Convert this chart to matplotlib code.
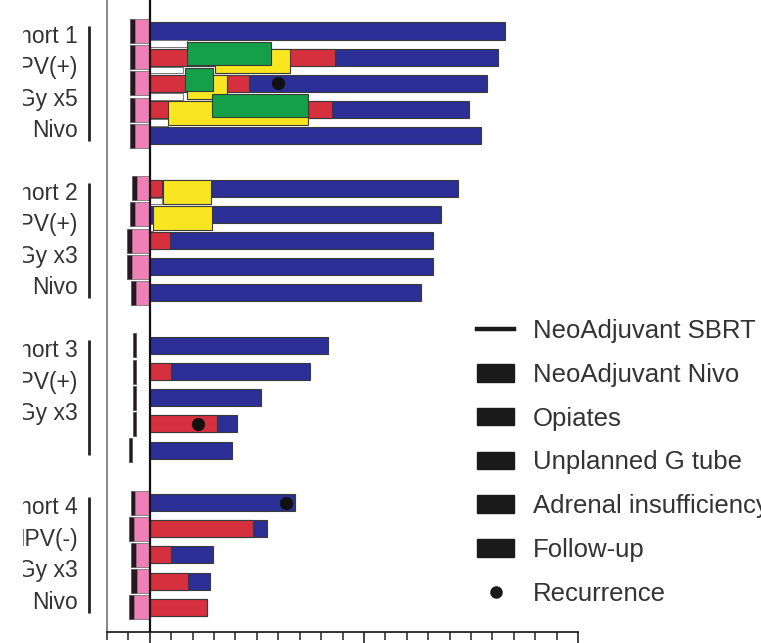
import matplotlib
matplotlib.use("Agg")
import matplotlib.pyplot as plt
from matplotlib.lines import Line2D
from matplotlib.patches import Patch
from matplotlib.transforms import Bbox, TransformedBbox
import numpy as np

plt.rcParams["font.family"] = ["Liberation Sans", "DejaVu Sans"]

# --- data (time from surgery; rows listed top to bottom, 5 patients per cohort) ---
cohort_labels = [
    ["Cohort 1", "HPV(+)", "8Gy x5", "Nivo"],
    ["Cohort 2", "HPV(+)", "8Gy x3", "Nivo"],
    ["Cohort 3", "HPV(+)", "8Gy x3"],
    ["Cohort 4", "HPV(-)", "8Gy x3", "Nivo"],
]
followup_end = [16.6, 16.27, 15.76, 14.92, 15.48,
                14.4, 13.6, 13.23, 13.23, 12.67,
                8.33, 7.49, 5.2, 4.07, 3.84,
                6.78, 5.46, 2.94, 2.81, 2.66]
opiates_end = [0, 8.66, 4.63, 8.5, 0,
               0.57, 0, 0.94, 0, 0,
               0, 1.0, 0, 3.12, 0,
               0, 4.83, 0.98, 1.79, 2.66]
nivo_start = [-0.69, -0.69, -0.69, -0.69, -0.69,
              -0.6, -0.69, -0.83, -0.83, -0.64,
              np.nan, np.nan, np.nan, np.nan, np.nan,
              -0.69, -0.74, -0.64, -0.6, -0.74]
sbrt_start = [-0.92, -0.92, -0.92, -0.92, -0.92,
              -0.83, -0.92, -1.06, -1.06, -0.88,
              -0.78, -0.78, -0.78, -0.78, -0.97,
              -0.88, -0.97, -0.88, -0.88, -0.97]
sbrt_end = [-0.69, -0.69, -0.69, -0.69, -0.69,
            -0.6, -0.69, -0.83, -0.83, -0.64,
            -0.66, -0.66, -0.66, -0.66, -0.85,
            -0.69, -0.74, -0.64, -0.6, -0.74]
# patient index (0-19) with event intervals
gtube_pt = [1, 2, 3, 5, 6]
gtube_start = [3.05, 1.74, 0.85, 0.62, 0.15]
gtube_end = [6.55, 3.6, 7.39, 2.87, 2.91]
adrenal_pt = [1, 2, 3]
adrenal_start = [1.74, 1.64, 2.91]
adrenal_end = [5.66, 2.95, 7.39]
blank_pt = [0, 1, 2, 3, 5, 6]
blank_end = [1.74, 1.55, 1.55, 0.85, 0.57, 0.15]
recur_pt = [2, 13, 15]
recur_time = [6.0, 2.25, 6.37]

BLUE = "#2b2f96"
RED = "#d6303f"
GREEN = "#14a049"
YELLOW = "#f9e620"
PINK = "#f07fb8"
DARK = "#2a1520"
EDGE = "#3a3a3a"

n_pt = len(followup_end)
row_y = np.array([(i // 5) * 6 + i % 5 for i in range(n_pt)], dtype=float)

fig = plt.figure(figsize=(7.61, 6.43), dpi=100)
ax = fig.add_axes([107 / 761, 11 / 643, 471 / 761, 632 / 643])
ax.set_xlim(-2, 20)
ax.set_ylim(22.94, -1.183)

bar_h = 0.65
kw = dict(edgecolor=EDGE, linewidth=0.8)

# follow-up and opiates
ax.barh(row_y, followup_end, height=bar_h, left=0, color=BLUE, zorder=2, **kw)
op = np.array(opiates_end)
m = op > 0
ax.barh(row_y[m], op[m], height=bar_h, left=0, color=RED, zorder=3, **kw)

# white sub-rows under the bars
by = row_y[blank_pt]
ax.barh(by + 0.49, blank_end, height=0.26, left=0, color="white",
        edgecolor="#777777", linewidth=0.7, zorder=2.5)

# G tube and adrenal insufficiency, offset within the row
gy = row_y[gtube_pt]
ax.barh(gy + 0.135, np.subtract(gtube_end, gtube_start), height=0.91,
        left=gtube_start, color=YELLOW, zorder=4, **kw)
ay = row_y[adrenal_pt]
ax.barh(ay - 0.15, np.subtract(adrenal_end, adrenal_start), height=0.88,
        left=adrenal_start, color=GREEN, zorder=5, **kw)

# neoadjuvant SBRT and nivo
ax.barh(row_y, np.subtract(sbrt_end, sbrt_start), height=0.92, left=sbrt_start,
        color=DARK, edgecolor="#555555", linewidth=0.6, zorder=2)
ns = np.array(nivo_start)
m = ~np.isnan(ns)
ax.barh(row_y[m], -ns[m], height=0.92, left=ns[m], color=PINK,
        edgecolor="#777777", linewidth=0.6, zorder=2)

# recurrence
ax.plot(recur_time, row_y[recur_pt], "o", color="#111111", markersize=8.5, zorder=6)

# zero line
ax.axvline(0, color="#111111", linewidth=1.6, zorder=7)

# axes styling
for s in ["top", "right"]:
    ax.spines[s].set_visible(False)
ax.spines["left"].set_color("#666666")
ax.spines["left"].set_linewidth(1.1)
ax.spines["bottom"].set_color("#222222")
ax.spines["bottom"].set_linewidth(1.3)
ax.set_yticks([])
ax.set_xticks([0, 10, 20])
ax.set_xticks(np.arange(-2, 21, 1), minor=True)
ax.tick_params(axis="x", which="major", direction="out", length=10, width=1.2,
               color="#222222", labelbottom=False)
ax.tick_params(axis="x", which="minor", direction="out", length=5.5, width=1.1,
               color="#222222")

# cohort labels with brackets (left part cut off like the source)
clip = TransformedBbox(Bbox([[23 / 761, 0], [1, 1]]), fig.transFigure)
x_txt = (78 - 149.8) / 21.4
x_brk = (89 - 149.8) / 21.4
for g, lines in enumerate(cohort_labels):
    c = g * 6 + 2
    for i, s in enumerate(lines):
        t = ax.text(x_txt, c + (i - 1.5) * 1.2, s, ha="right", va="center",
                    fontsize=16.5, color="#333333", clip_on=True)
        t.set_clip_box(clip)
    ax.plot([x_brk, x_brk], [c - 2.2, c + 2.2], color="#222222", linewidth=2,
            clip_on=False, solid_capstyle="butt")

# legend (markers are black in the source)
handles = [
    Line2D([], [], color="#1a1a1a", linewidth=3.2),
    Patch(facecolor="#1a1a1a", edgecolor="#1a1a1a"),
    Patch(facecolor="#1a1a1a", edgecolor="#1a1a1a"),
    Patch(facecolor="#1a1a1a", edgecolor="#1a1a1a"),
    Patch(facecolor="#1a1a1a", edgecolor="#1a1a1a"),
    Patch(facecolor="#1a1a1a", edgecolor="#1a1a1a"),
    Line2D([], [], marker="o", linestyle="", color="#1a1a1a", markersize=8),
]
labels = ["NeoAdjuvant SBRT", "NeoAdjuvant Nivo", "Opiates", "Unplanned G tube",
          "Adrenal insufficiency", "Follow-up", "Recurrence"]
leg = fig.legend(handles, labels, loc="upper left", bbox_to_anchor=(477 / 761, 1 - 319 / 643),
                 frameon=False, fontsize=18.5, handlelength=1.45, handleheight=0.68,
                 handletextpad=0.72, labelspacing=0.77, borderpad=0, borderaxespad=0)
for t in leg.get_texts():
    t.set_color("#333333")

fig.savefig("out.png", dpi=100, facecolor="white")
